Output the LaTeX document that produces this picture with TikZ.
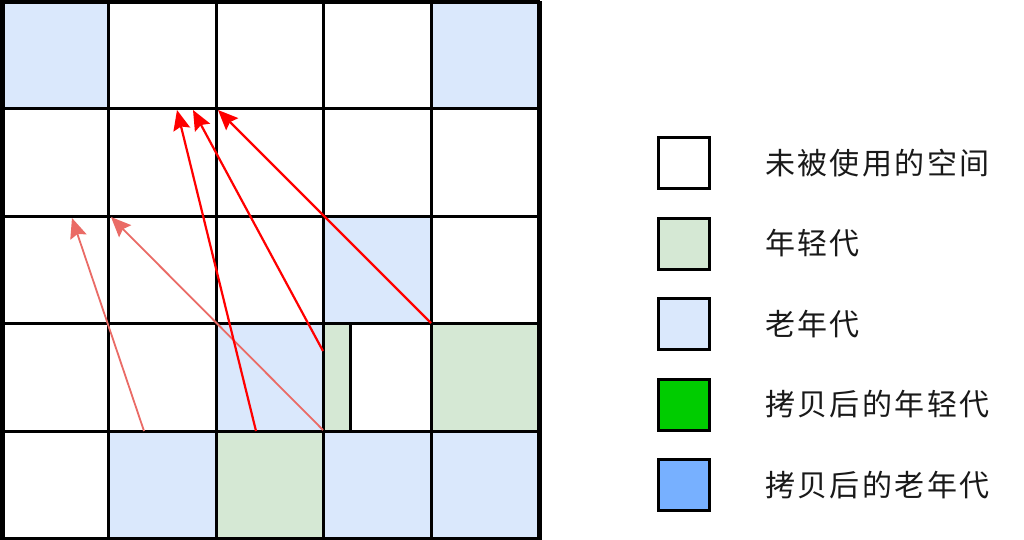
\documentclass[tikz,border=0pt]{standalone}
\usepackage{fontspec}
\newfontfamily\cjk[LetterSpace=8]{Noto Sans CJK SC}
\usetikzlibrary{arrows.meta}
\definecolor{oldgen}{HTML}{DAE8FC}
\definecolor{younggen}{HTML}{D5E8D4}
\definecolor{copyyoung}{HTML}{00CC00}
\definecolor{copyold}{HTML}{77B0FF}
\definecolor{lightred}{HTML}{EA6B66}
\begin{document}
\begin{tikzpicture}[x=1pt,y=-1pt,
  cell/.style={draw=black,line width=3pt,minimum width=107.4pt,minimum height=107.4pt,
    inner sep=0pt,outer sep=0pt,anchor=north west},
  legbox/.style={draw=black,line width=3pt,minimum width=51pt,minimum height=51pt,
    inner sep=0pt,outer sep=0pt},
  legtext/.style={anchor=west,inner sep=0pt,font=\cjk\fontsize{30}{32}\selectfont,text=black!90},
  copyarrow/.style={draw=red,line width=2.2pt,-{Stealth[length=20pt,width=17pt,inset=3pt]}},
  oldarrow/.style={draw=lightred,line width=1.8pt,-{Stealth[length=20pt,width=17pt,inset=3pt]}}]
\useasboundingbox (0,0) rectangle (1024,540);
% grid cells: colour by row
\foreach \r/\colors in {0/{oldgen,white,white,white,oldgen},
                        1/{white,white,white,white,white},
                        2/{white,white,white,oldgen,white},
                        3/{white,white,oldgen,white,younggen},
                        4/{white,oldgen,younggen,oldgen,oldgen}}{
  \foreach \col [count=\c from 0] in \colors {
    \node[cell,fill=\col] (c\r\c) at ({1.5+107.4*\c},{1.5+107.4*\r}) {};
  }
}
% young strip in split cell
\node[draw=black,line width=3pt,fill=younggen,minimum width=26.3pt,minimum height=107.4pt,
  inner sep=0pt,outer sep=0pt,anchor=north west] (strip) at (c33.north west) {};
% redraw outer frame
\node[draw=black,line width=3pt,minimum width=537pt,minimum height=537pt,inner sep=0pt,
  anchor=north west] (frame) at (1.5,1.5) {};
% arrow coordinates
\coordinate (s1) at (431,323);  \coordinate (t1) at (218,110);
\coordinate (s2) at (323,351);  \coordinate (t2) at (193,110);
\coordinate (s3) at (256,431);  \coordinate (t3) at (177,110);
\coordinate (s4) at (144,431);  \coordinate (t4) at (72,218);
\coordinate (s5) at (323,430);  \coordinate (t5) at (111,217);
\draw[oldarrow] (s4) -- (t4);
\draw[oldarrow] (s5) -- (t5);
\draw[copyarrow] (s1) -- (t1);
\draw[copyarrow] (s2) -- (t2);
\draw[copyarrow] (s3) -- (t3);
% legend
\node[legbox,fill=white]      (l1) at (684,163) {};
\node[legbox,fill=younggen]   (l2) at (684,243.5) {};
\node[legbox,fill=oldgen]     (l3) at (684,324) {};
\node[legbox,fill=copyyoung]  (l4) at (684,404.5) {};
\node[legbox,fill=copyold]    (l5) at (684,485) {};
\node[legtext] (tx1) at (765,163)   {未被使用的空间};
\node[legtext] (tx2) at (765,243.5) {年轻代};
\node[legtext] (tx3) at (765,324)   {老年代};
\node[legtext] (tx4) at (765,404.5) {拷贝后的年轻代};
\node[legtext] (tx5) at (765,485)   {拷贝后的老年代};
\end{tikzpicture}
\end{document}
